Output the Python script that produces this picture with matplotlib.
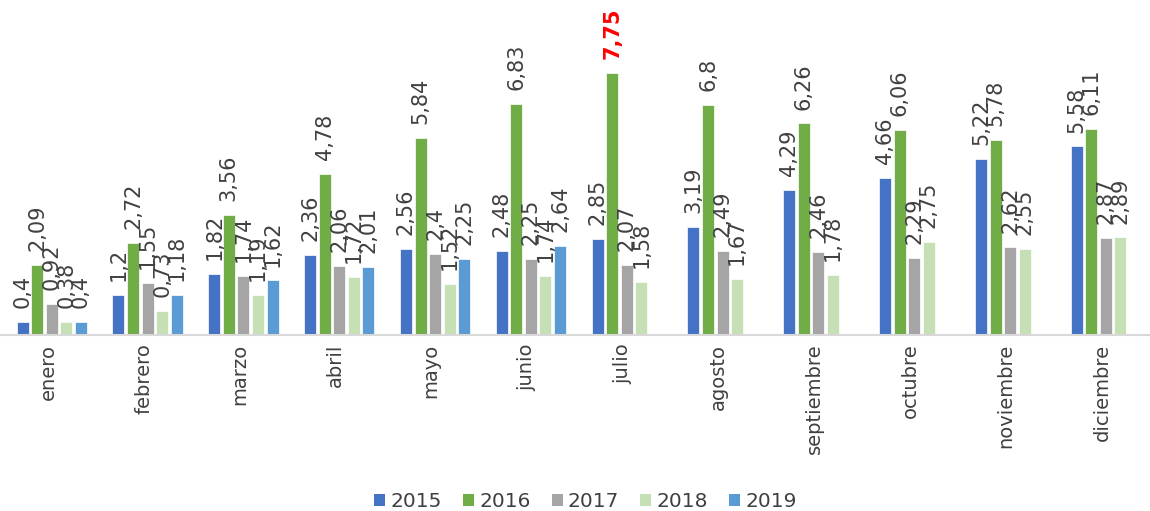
import matplotlib.pyplot as plt
import numpy as np
from matplotlib.patches import Patch

months = ["enero", "febrero", "marzo", "abril", "mayo", "junio", "julio",
          "agosto", "septiembre", "octubre", "noviembre", "diciembre"]
years = ["2015", "2016", "2017", "2018", "2019"]

v2015 = [0.4, 1.2, 1.82, 2.36, 2.56, 2.48, 2.85, 3.19, 4.29, 4.66, 5.22, 5.58]
v2016 = [2.09, 2.72, 3.56, 4.78, 5.84, 6.83, 7.75, 6.8, 6.26, 6.06, 5.78, 6.11]
v2017 = [0.92, 1.55, 1.74, 2.06, 2.4, 2.25, 2.07, 2.49, 2.46, 2.29, 2.62, 2.87]
v2018 = [0.38, 0.73, 1.19, 1.72, 1.52, 1.74, 1.58, 1.67, 1.78, 2.75, 2.55, 2.89]
v2019 = [0.4, 1.18, 1.62, 2.01, 2.25, 2.64]

series = [v2015, v2016, v2017, v2018, v2019]
colors = ["#4472C4", "#70AD47", "#A5A5A5", "#C5E0B4", "#5B9BD5"]

fig = plt.figure(figsize=(11.5, 5.11), dpi=100)
ax = fig.add_axes([0.0, 0.344, 1.0, 0.656])

x = np.arange(len(months))
pitch = 0.152
width = 0.125
shift = 0.04
text_color = "#404040"

for i, (vals, col) in enumerate(zip(series, colors)):
	xs = x[:len(vals)] + (i - 2) * pitch + shift
	ax.bar(xs, vals, width=width, color=col, edgecolor="white", linewidth=0.5)
	for xi, v in zip(xs, vals):
		lab = str(v).replace(".", ",")
		if v == 7.75:
			ax.annotate(lab, (xi, v), xytext=(0, 10), textcoords="offset points",
				rotation=90, ha="center", va="bottom", fontsize=15,
				color="red", fontweight="bold")
		else:
			ax.annotate(lab, (xi, v), xytext=(0, 10), textcoords="offset points",
				rotation=90, ha="center", va="bottom", fontsize=15,
				color=text_color)

ax.set_xlim(-0.5, 11.5)
ax.set_ylim(0, 9.91)
ax.set_xticks(x)
ax.set_xticklabels(months, rotation=90, fontsize=14, color=text_color)
ax.tick_params(axis="x", length=0, pad=6)
ax.set_yticks([])
for s in ["top", "right", "left"]:
	ax.spines[s].set_visible(False)
ax.spines["bottom"].set_color("#D9D9D9")
ax.spines["bottom"].set_linewidth(1.5)

handles = [Patch(facecolor=c, edgecolor="none") for c in colors]
fig.legend(handles, years, loc="lower center", bbox_to_anchor=(0.509, -0.035),
	ncol=5, frameon=False, fontsize=14.5, handlelength=0.55, handleheight=0.55,
	handletextpad=0.25, columnspacing=1.05, labelcolor=text_color)

fig.savefig("out.png", dpi=100)
